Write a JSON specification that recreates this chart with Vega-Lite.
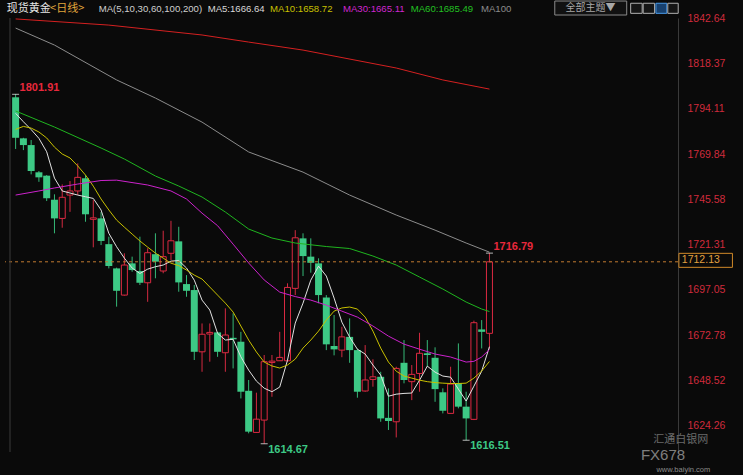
{
  "$schema": "https://vega.github.io/schema/vega-lite/v6.json",
  "width": 673,
  "height": 434,
  "autosize": {"type": "none"},
  "padding": {"left": 5, "top": 18, "right": 65, "bottom": 23},
  "background": "#0a0a0a",
  "config": {"view": {"stroke": null}, "font": "Liberation Sans", "axisX": {"disable": true}},
  "resolve": {"axis": {"y": "independent", "x": "independent"}},
  "datasets": {
    "candles": [
      {"i":0,"o":1800.3,"h":1801.91,"l":1772.6,"c":1778.6,"dir":"down"},
      {"i":1,"o":1778.3,"h":1778.6,"l":1772.0,"c":1774.7,"dir":"down"},
      {"i":2,"o":1774.7,"h":1777.4,"l":1759.0,"c":1760.8,"dir":"down"},
      {"i":3,"o":1760.1,"h":1760.8,"l":1755.0,"c":1757.4,"dir":"down"},
      {"i":4,"o":1758.3,"h":1758.6,"l":1744.7,"c":1746.2,"dir":"down"},
      {"i":5,"o":1745.4,"h":1748.3,"l":1727.4,"c":1735.4,"dir":"down"},
      {"i":6,"o":1735.4,"h":1753.6,"l":1730.4,"c":1746.7,"dir":"up"},
      {"i":7,"o":1747.9,"h":1755.4,"l":1738.9,"c":1750.1,"dir":"up"},
      {"i":8,"o":1750.1,"h":1764.9,"l":1747.9,"c":1757.4,"dir":"up"},
      {"i":9,"o":1756.9,"h":1758.6,"l":1733.6,"c":1737.6,"dir":"down"},
      {"i":10,"o":1734.9,"h":1745.2,"l":1719.9,"c":1735.7,"dir":"up"},
      {"i":11,"o":1735.4,"h":1738.8,"l":1721.1,"c":1723.3,"dir":"down"},
      {"i":12,"o":1721.6,"h":1725.6,"l":1708.6,"c":1709.9,"dir":"down"},
      {"i":13,"o":1708.6,"h":1709.0,"l":1688.1,"c":1696.6,"dir":"down"},
      {"i":14,"o":1694.3,"h":1716.7,"l":1694.0,"c":1710.4,"dir":"up"},
      {"i":15,"o":1711.3,"h":1714.9,"l":1706.8,"c":1707.7,"dir":"down"},
      {"i":16,"o":1707.2,"h":1725.6,"l":1699.7,"c":1700.9,"dir":"down"},
      {"i":17,"o":1700.9,"h":1719.4,"l":1690.7,"c":1717.0,"dir":"up"},
      {"i":18,"o":1716.2,"h":1727.4,"l":1703.3,"c":1712.2,"dir":"down"},
      {"i":19,"o":1707.2,"h":1728.8,"l":1706.0,"c":1714.9,"dir":"up"},
      {"i":20,"o":1716.7,"h":1734.1,"l":1713.1,"c":1723.4,"dir":"up"},
      {"i":21,"o":1723.1,"h":1730.9,"l":1696.1,"c":1701.1,"dir":"down"},
      {"i":22,"o":1700.2,"h":1705.0,"l":1693.4,"c":1696.6,"dir":"down"},
      {"i":23,"o":1697.0,"h":1699.7,"l":1659.5,"c":1663.9,"dir":"down"},
      {"i":24,"o":1663.9,"h":1679.1,"l":1653.2,"c":1673.3,"dir":"up"},
      {"i":25,"o":1673.4,"h":1679.1,"l":1658.6,"c":1674.3,"dir":"up"},
      {"i":26,"o":1674.3,"h":1674.6,"l":1661.2,"c":1663.9,"dir":"down"},
      {"i":27,"o":1663.4,"h":1687.2,"l":1653.2,"c":1672.9,"dir":"up"},
      {"i":28,"o":1671.4,"h":1684.5,"l":1655.0,"c":1670.6,"dir":"down"},
      {"i":29,"o":1669.3,"h":1674.6,"l":1638.9,"c":1642.5,"dir":"down"},
      {"i":30,"o":1643.0,"h":1648.8,"l":1620.2,"c":1621.1,"dir":"down"},
      {"i":31,"o":1620.7,"h":1642.0,"l":1620.5,"c":1627.8,"dir":"up"},
      {"i":32,"o":1627.3,"h":1662.2,"l":1614.67,"c":1658.6,"dir":"up"},
      {"i":33,"o":1658.2,"h":1662.2,"l":1639.8,"c":1658.9,"dir":"up"},
      {"i":34,"o":1659.1,"h":1674.6,"l":1659.0,"c":1660.9,"dir":"up"},
      {"i":35,"o":1659.1,"h":1700.6,"l":1658.6,"c":1698.4,"dir":"up"},
      {"i":36,"o":1697.9,"h":1729.1,"l":1694.3,"c":1725.0,"dir":"up"},
      {"i":37,"o":1724.7,"h":1727.4,"l":1704.5,"c":1715.2,"dir":"down"},
      {"i":38,"o":1714.9,"h":1724.7,"l":1706.3,"c":1711.6,"dir":"down"},
      {"i":39,"o":1711.3,"h":1714.0,"l":1689.9,"c":1694.3,"dir":"down"},
      {"i":40,"o":1693.0,"h":1694.3,"l":1664.8,"c":1667.9,"dir":"down"},
      {"i":41,"o":1667.0,"h":1683.6,"l":1662.0,"c":1665.2,"dir":"down"},
      {"i":42,"o":1664.8,"h":1677.3,"l":1661.0,"c":1671.9,"dir":"up"},
      {"i":43,"o":1671.9,"h":1681.8,"l":1658.0,"c":1664.8,"dir":"down"},
      {"i":44,"o":1664.8,"h":1665.5,"l":1639.3,"c":1642.5,"dir":"down"},
      {"i":45,"o":1642.9,"h":1667.5,"l":1642.5,"c":1648.8,"dir":"up"},
      {"i":46,"o":1649.1,"h":1659.9,"l":1645.2,"c":1650.5,"dir":"up"},
      {"i":47,"o":1650.5,"h":1653.2,"l":1626.4,"c":1628.2,"dir":"down"},
      {"i":48,"o":1628.5,"h":1644.3,"l":1622.0,"c":1626.8,"dir":"down"},
      {"i":49,"o":1626.4,"h":1655.9,"l":1618.0,"c":1655.0,"dir":"up"},
      {"i":50,"o":1658.0,"h":1670.2,"l":1647.0,"c":1648.8,"dir":"down"},
      {"i":51,"o":1647.9,"h":1656.8,"l":1638.0,"c":1651.8,"dir":"up"},
      {"i":52,"o":1652.3,"h":1674.1,"l":1642.5,"c":1663.1,"dir":"up"},
      {"i":53,"o":1663.1,"h":1670.2,"l":1655.9,"c":1662.2,"dir":"down"},
      {"i":54,"o":1660.7,"h":1666.3,"l":1637.1,"c":1643.9,"dir":"down"},
      {"i":55,"o":1642.2,"h":1644.3,"l":1630.9,"c":1632.3,"dir":"down"},
      {"i":56,"o":1630.9,"h":1655.9,"l":1630.9,"c":1646.6,"dir":"up"},
      {"i":57,"o":1647.0,"h":1668.4,"l":1633.6,"c":1634.5,"dir":"down"},
      {"i":58,"o":1634.5,"h":1642.5,"l":1616.51,"c":1628.2,"dir":"down"},
      {"i":59,"o":1627.7,"h":1680.6,"l":1627.3,"c":1679.5,"dir":"up"},
      {"i":60,"o":1675.9,"h":1680.9,"l":1665.7,"c":1674.6,"dir":"down"},
      {"i":61,"o":1673.8,"h":1716.79,"l":1665.5,"c":1712.13,"dir":"up"}
    ],
    "ma": [
      {"i":0,"ma":"MA5","v":1791.7},{"i":1,"ma":"MA5","v":1787.2},{"i":2,"ma":"MA5","v":1783.0},{"i":3,"ma":"MA5","v":1778.3},{"i":4,"ma":"MA5","v":1771.1},{"i":5,"ma":"MA5","v":1757.0},{"i":6,"ma":"MA5","v":1750.1},{"i":7,"ma":"MA5","v":1749.0},{"i":8,"ma":"MA5","v":1747.9},{"i":9,"ma":"MA5","v":1747.0},{"i":10,"ma":"MA5","v":1746.1},{"i":11,"ma":"MA5","v":1739.9},{"i":12,"ma":"MA5","v":1727.4},{"i":13,"ma":"MA5","v":1720.2},{"i":14,"ma":"MA5","v":1714.1},{"i":15,"ma":"MA5","v":1708.8},{"i":16,"ma":"MA5","v":1705.9},{"i":17,"ma":"MA5","v":1708.2},{"i":18,"ma":"MA5","v":1709.5},{"i":19,"ma":"MA5","v":1710.4},{"i":20,"ma":"MA5","v":1712.5},{"i":21,"ma":"MA5","v":1712.8},{"i":22,"ma":"MA5","v":1708.8},{"i":23,"ma":"MA5","v":1702.3},{"i":24,"ma":"MA5","v":1691.6},{"i":25,"ma":"MA5","v":1686.3},{"i":26,"ma":"MA5","v":1673.8},{"i":27,"ma":"MA5","v":1670.2},{"i":28,"ma":"MA5","v":1670.6},{"i":29,"ma":"MA5","v":1661.2},{"i":30,"ma":"MA5","v":1654.1},{"i":31,"ma":"MA5","v":1648.2},{"i":32,"ma":"MA5","v":1644.4},{"i":33,"ma":"MA5","v":1642.5},{"i":34,"ma":"MA5","v":1645.0},{"i":35,"ma":"MA5","v":1659.4},{"i":36,"ma":"MA5","v":1679.3},{"i":37,"ma":"MA5","v":1690.0},{"i":38,"ma":"MA5","v":1702.3},{"i":39,"ma":"MA5","v":1709.8},{"i":40,"ma":"MA5","v":1704.5},{"i":41,"ma":"MA5","v":1692.7},{"i":42,"ma":"MA5","v":1679.8},{"i":43,"ma":"MA5","v":1671.8},{"i":44,"ma":"MA5","v":1665.3},{"i":45,"ma":"MA5","v":1662.7},{"i":46,"ma":"MA5","v":1656.8},{"i":47,"ma":"MA5","v":1651.4},{"i":48,"ma":"MA5","v":1640.1},{"i":49,"ma":"MA5","v":1641.2},{"i":50,"ma":"MA5","v":1641.6},{"i":51,"ma":"MA5","v":1641.8},{"i":52,"ma":"MA5","v":1648.7},{"i":53,"ma":"MA5","v":1656.2},{"i":54,"ma":"MA5","v":1653.0},{"i":55,"ma":"MA5","v":1650.9},{"i":56,"ma":"MA5","v":1650.3},{"i":57,"ma":"MA5","v":1643.9},{"i":58,"ma":"MA5","v":1637.5},{"i":59,"ma":"MA5","v":1645.5},{"i":60,"ma":"MA5","v":1653.5},{"i":61,"ma":"MA5","v":1666.64},
      {"i":0,"ma":"MA10","v":1783.1},{"i":1,"ma":"MA10","v":1784.7},{"i":2,"ma":"MA10","v":1783.8},{"i":3,"ma":"MA10","v":1781.7},{"i":4,"ma":"MA10","v":1778.5},{"i":5,"ma":"MA10","v":1773.6},{"i":6,"ma":"MA10","v":1769.9},{"i":7,"ma":"MA10","v":1767.8},{"i":8,"ma":"MA10","v":1763.5},{"i":9,"ma":"MA10","v":1758.6},{"i":10,"ma":"MA10","v":1752.7},{"i":11,"ma":"MA10","v":1745.8},{"i":12,"ma":"MA10","v":1739.9},{"i":13,"ma":"MA10","v":1734.5},{"i":14,"ma":"MA10","v":1730.7},{"i":15,"ma":"MA10","v":1727.0},{"i":16,"ma":"MA10","v":1723.3},{"i":17,"ma":"MA10","v":1720.0},{"i":18,"ma":"MA10","v":1716.8},{"i":19,"ma":"MA10","v":1714.1},{"i":20,"ma":"MA10","v":1711.4},{"i":21,"ma":"MA10","v":1710.1},{"i":22,"ma":"MA10","v":1707.7},{"i":23,"ma":"MA10","v":1705.0},{"i":24,"ma":"MA10","v":1702.9},{"i":25,"ma":"MA10","v":1698.6},{"i":26,"ma":"MA10","v":1694.3},{"i":27,"ma":"MA10","v":1690.0},{"i":28,"ma":"MA10","v":1685.2},{"i":29,"ma":"MA10","v":1677.7},{"i":30,"ma":"MA10","v":1670.2},{"i":31,"ma":"MA10","v":1663.8},{"i":32,"ma":"MA10","v":1658.4},{"i":33,"ma":"MA10","v":1656.3},{"i":34,"ma":"MA10","v":1655.2},{"i":35,"ma":"MA10","v":1656.8},{"i":36,"ma":"MA10","v":1660.0},{"i":37,"ma":"MA10","v":1665.9},{"i":38,"ma":"MA10","v":1670.2},{"i":39,"ma":"MA10","v":1675.0},{"i":40,"ma":"MA10","v":1680.9},{"i":41,"ma":"MA10","v":1685.7},{"i":42,"ma":"MA10","v":1687.4},{"i":43,"ma":"MA10","v":1687.9},{"i":44,"ma":"MA10","v":1686.8},{"i":45,"ma":"MA10","v":1682.5},{"i":46,"ma":"MA10","v":1675.0},{"i":47,"ma":"MA10","v":1665.9},{"i":48,"ma":"MA10","v":1658.4},{"i":49,"ma":"MA10","v":1653.5},{"i":50,"ma":"MA10","v":1650.9},{"i":51,"ma":"MA10","v":1649.8},{"i":52,"ma":"MA10","v":1648.7},{"i":53,"ma":"MA10","v":1647.9},{"i":54,"ma":"MA10","v":1647.4},{"i":55,"ma":"MA10","v":1647.1},{"i":56,"ma":"MA10","v":1646.9},{"i":57,"ma":"MA10","v":1646.9},{"i":58,"ma":"MA10","v":1647.1},{"i":59,"ma":"MA10","v":1649.8},{"i":60,"ma":"MA10","v":1653.6},{"i":61,"ma":"MA10","v":1658.72},
      {"i":0,"ma":"MA30","v":1747.9},{"i":3,"ma":"MA30","v":1750.1},{"i":5,"ma":"MA30","v":1751.7},{"i":8,"ma":"MA30","v":1753.8},{"i":11,"ma":"MA30","v":1755.7},{"i":13,"ma":"MA30","v":1755.9},{"i":17,"ma":"MA30","v":1753.3},{"i":20,"ma":"MA30","v":1750.1},{"i":22,"ma":"MA30","v":1745.8},{"i":24,"ma":"MA30","v":1738.2},{"i":26,"ma":"MA30","v":1731.5},{"i":28,"ma":"MA30","v":1721.6},{"i":30,"ma":"MA30","v":1711.5},{"i":32,"ma":"MA30","v":1702.4},{"i":34,"ma":"MA30","v":1695.9},{"i":36,"ma":"MA30","v":1693.5},{"i":38,"ma":"MA30","v":1691.6},{"i":40,"ma":"MA30","v":1688.9},{"i":42,"ma":"MA30","v":1685.7},{"i":44,"ma":"MA30","v":1682.5},{"i":46,"ma":"MA30","v":1677.7},{"i":48,"ma":"MA30","v":1672.3},{"i":50,"ma":"MA30","v":1668.0},{"i":52,"ma":"MA30","v":1665.3},{"i":54,"ma":"MA30","v":1662.7},{"i":56,"ma":"MA30","v":1661.1},{"i":58,"ma":"MA30","v":1658.4},{"i":59,"ma":"MA30","v":1658.8},{"i":60,"ma":"MA30","v":1661.1},{"i":61,"ma":"MA30","v":1665.11},
      {"i":0,"ma":"MA60","v":1792.95},{"i":5,"ma":"MA60","v":1784.37},{"i":11,"ma":"MA60","v":1773.12},{"i":14,"ma":"MA60","v":1767.22},{"i":18,"ma":"MA60","v":1758.11},{"i":21,"ma":"MA60","v":1752.75},{"i":24,"ma":"MA60","v":1746.85},{"i":27,"ma":"MA60","v":1738.81},{"i":30,"ma":"MA60","v":1729.7},{"i":33,"ma":"MA60","v":1724.88},{"i":36,"ma":"MA60","v":1722.2},{"i":40,"ma":"MA60","v":1720.32},{"i":43,"ma":"MA60","v":1719.25},{"i":46,"ma":"MA60","v":1715.23},{"i":49,"ma":"MA60","v":1710.41},{"i":52,"ma":"MA60","v":1703.97},{"i":55,"ma":"MA60","v":1697.54},{"i":58,"ma":"MA60","v":1690.57},{"i":60,"ma":"MA60","v":1686.82},{"i":61,"ma":"MA60","v":1685.49},
      {"i":0,"ma":"MA100","v":1837.4},{"i":5,"ma":"MA100","v":1828.3},{"i":13,"ma":"MA100","v":1809.6},{"i":18,"ma":"MA100","v":1799.9},{"i":24,"ma":"MA100","v":1787.0},{"i":30,"ma":"MA100","v":1771.0},{"i":37,"ma":"MA100","v":1760.2},{"i":43,"ma":"MA100","v":1747.9},{"i":49,"ma":"MA100","v":1737.2},{"i":54,"ma":"MA100","v":1729.1},{"i":58,"ma":"MA100","v":1722.2},{"i":61,"ma":"MA100","v":1717.3},
      {"i":0,"ma":"MA200","v":1842.3},{"i":12,"ma":"MA200","v":1839.0},{"i":24,"ma":"MA200","v":1833.7},{"i":30,"ma":"MA200","v":1829.9},{"i":37,"ma":"MA200","v":1825.6},{"i":49,"ma":"MA200","v":1816.0},{"i":55,"ma":"MA200","v":1809.6},{"i":61,"ma":"MA200","v":1804.7}
    ],
    "ext": [
      {"i":0,"v":1801.91,"label":"1801.91","kind":"hi"},
      {"i":61,"v":1716.79,"label":"1716.79","kind":"hi"},
      {"i":32,"v":1614.67,"label":"1614.67","kind":"lo"},
      {"i":58,"v":1616.51,"label":"1616.51","kind":"lo"}
    ]
  },
  "layer": [
    {
      "data": {"name": "candles"},
      "mark": {"type": "rule", "strokeWidth": 1},
      "encoding": {
        "x": {"field": "i", "type": "quantitative", "axis": null, "scale": {"domain": [-0.723, 84.63], "nice": false, "zero": false}},
        "y": {"field": "l", "type": "quantitative", "scale": {"domain": [1610.2, 1842.8], "nice": false, "zero": false},
          "axis": {"orient": "right", "title": null, "values": [1624.26, 1648.52, 1672.78, 1697.05, 1721.31, 1745.58, 1769.84, 1794.11, 1818.37, 1842.64], "format": ".2f", "labelColor": "#d02a3c", "labelFont": "Liberation Sans", "labelFontSize": 10.5, "ticks": false, "tickSize": 0, "labelPadding": 9, "grid": false, "domain": true, "domainColor": "#3a3a3a", "labelFlush": false, "labelOverlap": false}},
        "y2": {"field": "h"},
        "color": {"field": "dir", "type": "nominal", "legend": null, "scale": {"domain": ["up", "down"], "range": ["#d42a40", "#35b877"]}}
      }
    },
    {
      "data": {"name": "candles"},
      "transform": [{"filter": "datum.dir === 'down'"}],
      "mark": {"type": "bar", "size": 7, "color": "#3dc985"},
      "encoding": {
        "x": {"field": "i", "type": "quantitative", "axis": null},
        "y": {"field": "o", "type": "quantitative", "axis": null},
        "y2": {"field": "c"}
      }
    },
    {
      "data": {"name": "candles"},
      "transform": [{"filter": "datum.dir === 'up'"}],
      "mark": {"type": "bar", "size": 6, "fill": "#0a0a0a", "stroke": "#dc2a42", "strokeWidth": 1},
      "encoding": {
        "x": {"field": "i", "type": "quantitative", "axis": null},
        "y": {"field": "o", "type": "quantitative", "axis": null},
        "y2": {"field": "c"}
      }
    },
    {
      "data": {"name": "ma"},
      "mark": {"type": "line", "strokeWidth": 1},
      "encoding": {
        "x": {"field": "i", "type": "quantitative", "axis": null},
        "y": {"field": "v", "type": "quantitative", "axis": null},
        "stroke": {"field": "ma", "type": "nominal", "legend": null, "scale": {"domain": ["MA5", "MA10", "MA30", "MA60", "MA100", "MA200"], "range": ["#e2e2e2", "#c8c000", "#cc22cc", "#1fb51f", "#8c8c8c", "#d42020"]}}
      }
    },
    {
      "data": {"values": [{}]},
      "mark": {"type": "rule", "color": "#c07a30", "strokeDash": [3, 3], "strokeWidth": 1},
      "encoding": {"y": {"datum": 1712.13, "axis": null}}
    },
    {
      "data": {"values": [{}]},
      "mark": {"type": "rule", "color": "#3a3a3a", "strokeWidth": 1},
      "encoding": {"x": {"datum": -0.723, "axis": null}}
    },
    {
      "data": {"name": "ext"},
      "mark": {"type": "tick", "orient": "horizontal", "size": 7, "thickness": 1, "color": "#ffffff"},
      "encoding": {
        "x": {"field": "i", "type": "quantitative", "axis": null},
        "y": {"field": "v", "type": "quantitative", "axis": null}
      }
    },
    {
      "data": {"name": "ext"},
      "transform": [{"filter": "datum.kind === 'hi'"}],
      "mark": {"type": "text", "align": "left", "baseline": "middle", "dx": 4, "dy": -6, "fontSize": 11, "fontWeight": "bold", "color": "#e8283c"},
      "encoding": {
        "x": {"field": "i", "type": "quantitative", "axis": null},
        "y": {"field": "v", "type": "quantitative", "axis": null},
        "text": {"field": "label"}
      }
    },
    {
      "data": {"name": "ext"},
      "transform": [{"filter": "datum.kind === 'lo'"}],
      "mark": {"type": "text", "align": "left", "baseline": "middle", "dx": 4, "dy": 6, "fontSize": 11, "fontWeight": "bold", "color": "#3dc985"},
      "encoding": {
        "x": {"field": "i", "type": "quantitative", "axis": null},
        "y": {"field": "v", "type": "quantitative", "axis": null},
        "text": {"field": "label"}
      }
    },
    {
      "data": {"values": [{}]},
      "mark": {"type": "rect", "fill": "#0a0a0a", "stroke": "#d08a2a", "strokeWidth": 1},
      "encoding": {"x": {"datum": 85.39, "axis": null}, "x2": {"datum": 92.28}, "y": {"datum": 1716.67, "axis": null}, "y2": {"datum": 1709.17}}
    },
    {
      "data": {"values": [{}]},
      "mark": {"type": "text", "text": "1712.13", "align": "left", "baseline": "middle", "fontSize": 10.5, "color": "#e0a040"},
      "encoding": {"x": {"datum": 85.77, "axis": null}, "y": {"datum": 1712.9, "axis": null}}
    },
    {
      "data": {"values": [{}]},
      "mark": {"type": "text", "text": "现货黄金", "align": "left", "baseline": "middle", "fontSize": 11, "font": "Noto Sans CJK SC", "color": "#e6e6e6"},
      "encoding": {"x": {"datum": -1.14, "axis": null}, "y": {"datum": 1847.6, "axis": null}}
    },
    {
      "data": {"values": [{}]},
      "mark": {"type": "text", "text": "<日线>", "align": "left", "baseline": "middle", "fontSize": 11, "font": "Noto Sans CJK SC", "color": "#e0a53a"},
      "encoding": {"x": {"datum": 4.44, "axis": null}, "y": {"datum": 1847.6, "axis": null}}
    },
    {
      "data": {"values": [{}]},
      "mark": {"type": "text", "text": "MA(5,10,30,60,100,200)", "align": "left", "baseline": "middle", "fontSize": 9.6, "color": "#cfcfcf"},
      "encoding": {"x": {"datum": 10.69, "axis": null}, "y": {"datum": 1847.6, "axis": null}}
    },
    {
      "data": {"values": [{}]},
      "mark": {"type": "text", "text": "MA5:1666.64", "align": "left", "baseline": "middle", "fontSize": 9.6, "color": "#d8d8d8"},
      "encoding": {"x": {"datum": 24.72, "axis": null}, "y": {"datum": 1847.6, "axis": null}}
    },
    {
      "data": {"values": [{}]},
      "mark": {"type": "text", "text": "MA10:1658.72", "align": "left", "baseline": "middle", "fontSize": 9.6, "color": "#c8c000"},
      "encoding": {"x": {"datum": 32.76, "axis": null}, "y": {"datum": 1847.6, "axis": null}}
    },
    {
      "data": {"values": [{}]},
      "mark": {"type": "text", "text": "MA30:1665.11", "align": "left", "baseline": "middle", "fontSize": 9.6, "color": "#d026d0"},
      "encoding": {"x": {"datum": 42.14, "axis": null}, "y": {"datum": 1847.6, "axis": null}}
    },
    {
      "data": {"values": [{}]},
      "mark": {"type": "text", "text": "MA60:1685.49", "align": "left", "baseline": "middle", "fontSize": 9.6, "color": "#22c022"},
      "encoding": {"x": {"datum": 50.86, "axis": null}, "y": {"datum": 1847.6, "axis": null}}
    },
    {
      "data": {"values": [{}]},
      "mark": {"type": "text", "text": "MA100", "align": "left", "baseline": "middle", "fontSize": 9.6, "color": "#8c8c8c"},
      "encoding": {"x": {"datum": 59.9, "axis": null}, "y": {"datum": 1847.6, "axis": null}}
    },
    {
      "data": {"values": [{}]},
      "mark": {"type": "rect", "fill": "#111111", "stroke": "#8a8a8a", "strokeWidth": 1},
      "encoding": {"x": {"datum": 69.41, "axis": null}, "x2": {"datum": 78.67}, "y": {"datum": 1851.9, "axis": null}, "y2": {"datum": 1844.4}}
    },
    {
      "data": {"values": [{}]},
      "mark": {"type": "text", "text": "全部主题▼", "align": "center", "baseline": "middle", "fontSize": 10, "font": "Noto Sans CJK SC", "color": "#a8a8a8"},
      "encoding": {"x": {"datum": 74.0, "axis": null}, "y": {"datum": 1847.9, "axis": null}}
    },
    {
      "data": {"values": [{}]},
      "mark": {"type": "rect", "fill": "#151515", "stroke": "#b0b0b0", "strokeWidth": 1},
      "encoding": {"x": {"datum": 79.18, "axis": null}, "x2": {"datum": 80.66}, "y": {"datum": 1850.7, "axis": null}, "y2": {"datum": 1845.3}}
    },
    {
      "data": {"values": [{}]},
      "mark": {"type": "rect", "fill": "#151515", "stroke": "#b0b0b0", "strokeWidth": 1},
      "encoding": {"x": {"datum": 80.79, "axis": null}, "x2": {"datum": 82.26}, "y": {"datum": 1850.7, "axis": null}, "y2": {"datum": 1845.3}}
    },
    {
      "data": {"values": [{}]},
      "mark": {"type": "rect", "fill": "#17406e", "stroke": "#4a9ae8", "strokeWidth": 1},
      "encoding": {"x": {"datum": 82.43, "axis": null}, "x2": {"datum": 83.83}, "y": {"datum": 1850.7, "axis": null}, "y2": {"datum": 1845.3}}
    },
    {
      "data": {"values": [{}]},
      "mark": {"type": "rect", "fill": "#151515", "stroke": "#b0b0b0", "strokeWidth": 1},
      "encoding": {"x": {"datum": 83.96, "axis": null}, "x2": {"datum": 85.3}, "y": {"datum": 1850.7, "axis": null}, "y2": {"datum": 1845.3}}
    },
    {
      "data": {"values": [{}]},
      "mark": {"type": "text", "text": "汇通白银网", "align": "left", "baseline": "middle", "fontSize": 11, "font": "Noto Sans CJK SC", "color": "#6a6a6a"},
      "encoding": {"x": {"datum": 82.1, "axis": null}, "y": {"datum": 1616.4, "axis": null}}
    },
    {
      "data": {"values": [{}]},
      "mark": {"type": "text", "text": "FX678", "align": "left", "baseline": "middle", "fontSize": 15, "color": "#dddddd", "opacity": 0.55},
      "encoding": {"x": {"datum": 80.5, "axis": null}, "y": {"datum": 1608.57, "axis": null}}
    },
    {
      "data": {"values": [{}]},
      "mark": {"type": "text", "text": "www.baiyin.com", "align": "left", "baseline": "middle", "fontSize": 7.5, "color": "#8a8a8a"},
      "encoding": {"x": {"datum": 82.5, "axis": null}, "y": {"datum": 1600.6, "axis": null}}
    }
  ]
}
